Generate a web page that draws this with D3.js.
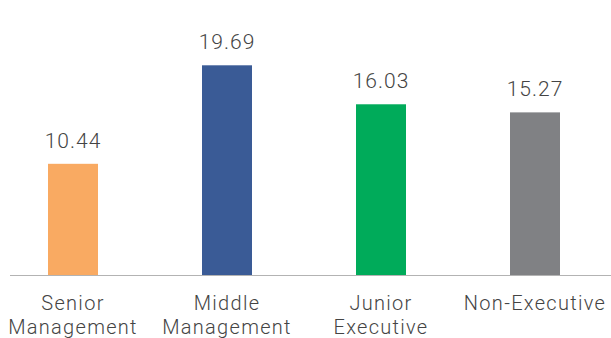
<!DOCTYPE html>
<html>
<head>
<meta charset="utf-8">
<script src="https://cdn.jsdelivr.net/npm/d3@7"></script>
<style>
  html, body { margin: 0; padding: 0; background: #fff; }
  svg { display: block; }
</style>
</head>
<body>
<svg id="chart" width="611" height="338"></svg>
<script>
const categories = [["Senior", "Management"], ["Middle", "Management"], ["Junior", "Executive"], ["Non-Executive"]];
const categoryKeys = ["Senior Management", "Middle Management", "Junior Executive", "Non-Executive"];
const values = [10.44, 19.69, 16.03, 15.27];
const colors = ["#F9AA62", "#3A5B96", "#00AB5A", "#808184"];

const svg = d3.select("#chart");
const W = 611, H = 338;
const baseY = 275;

const x = d3.scalePoint().domain(categoryKeys).range([73, 535]);
const y = d3.scaleLinear().domain([0, 20]).range([baseY, 62]);
const barW = 50;

const font = "Roboto, 'DejaVu Sans', sans-serif";

svg.selectAll("rect.bar")
  .data(values)
  .join("rect")
  .attr("class", "bar")
  .attr("x", (d, i) => x(categoryKeys[i]) - barW / 2)
  .attr("y", d => y(d))
  .attr("width", barW)
  .attr("height", d => baseY - y(d))
  .attr("fill", (d, i) => colors[i]);

svg.append("line")
  .attr("x1", 10).attr("x2", W)
  .attr("y1", baseY + 0.5).attr("y2", baseY + 0.5)
  .attr("stroke", "#b3b3b3").attr("stroke-width", 1);

svg.selectAll("text.val")
  .data(values)
  .join("text")
  .attr("class", "val")
  .attr("x", (d, i) => x(categoryKeys[i]))
  .attr("y", d => y(d) - 16)
  .attr("text-anchor", "middle")
  .attr("font-family", font)
  .attr("font-weight", 300)
  .attr("font-size", 21)
  .attr("letter-spacing", 1)
  .attr("fill", "#444")
  .text(d => d.toFixed(2));

const lab = svg.selectAll("text.cat")
  .data(categories)
  .join("text")
  .attr("class", "cat")
  .attr("text-anchor", "middle")
  .attr("font-family", font)
  .attr("font-weight", 300)
  .attr("font-size", 20)
  .attr("letter-spacing", 1.3)
  .attr("fill", "#444");
lab.selectAll("tspan")
  .data((d, i) => d.map(t => ({t, i})))
  .join("tspan")
  .attr("x", d => x(categoryKeys[d.i]))
  .attr("y", (d, j) => 310 + j * 24)
  .text(d => d.t);
</script>
</body>
</html>
